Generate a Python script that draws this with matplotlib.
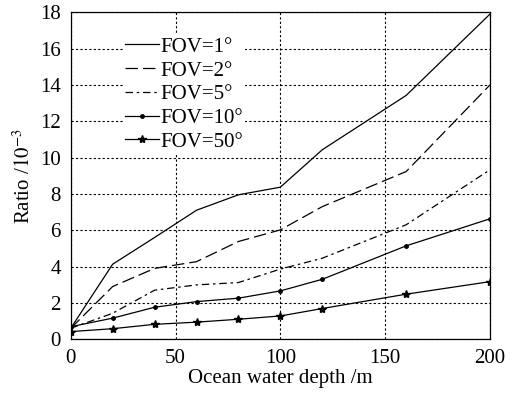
import matplotlib.pyplot as plt

depth = [0, 20, 40, 60, 80, 100, 120, 160, 200]
fov1 = [0.6, 4.13, 5.6, 7.1, 7.95, 8.37, 10.43, 13.42, 17.9]
fov2 = [0.6, 2.9, 3.9, 4.27, 5.38, 6.02, 7.3, 9.23, 14.0]
fov5 = [0.6, 1.43, 2.7, 2.99, 3.12, 3.86, 4.46, 6.3, 9.33]
fov10 = [0.69, 1.16, 1.76, 2.07, 2.26, 2.66, 3.3, 5.14, 6.63]
fov50 = [0.42, 0.58, 0.82, 0.94, 1.1, 1.28, 1.69, 2.48, 3.17]

labels = ['FOV=1°', 'FOV=2°', 'FOV=5°', 'FOV=10°', 'FOV=50°']
xticks = [0, 50, 100, 150, 200]
yticks = [0, 2, 4, 6, 8, 10, 12, 14, 16, 18]

plt.rcParams['font.family'] = ['Liberation Serif', 'DejaVu Serif']
plt.rcParams['mathtext.fontset'] = 'stix'

fig = plt.figure(figsize=(5.18, 3.94), dpi=100)
ax = fig.add_axes([0.1365, 0.139, 0.8095, 0.830])

lw = 0.9
ax.plot(depth, fov1, color='black', lw=lw, label=labels[0])
ax.plot(depth, fov2, color='black', lw=lw, ls=(0, (10, 4)), label=labels[1])
ax.plot(depth, fov5, color='black', lw=lw, ls=(0, (6, 3, 2, 3)), label=labels[2])
ax.plot(depth, fov10, color='black', lw=lw, marker='.', ms=5, label=labels[3])
ax.plot(depth, fov50, color='black', lw=lw, marker='*', ms=6, label=labels[4])

ax.set_xlim(0, 200)
ax.set_ylim(0, 18)
ax.set_xticks(xticks)
ax.set_yticks(yticks)
ax.tick_params(direction='in', length=0, labelsize=15)
ax.tick_params(axis='y', pad=7)
ax.tick_params(axis='x', pad=7)
ax.grid(True, color='black', ls=(0, (2, 2)), lw=0.8)
for s in ax.spines.values():
    s.set_linewidth(0.9)

ax.set_xlabel('Ocean water depth /m', fontsize=15, labelpad=1)
ax.set_ylabel('Ratio /$10^{-3}$', fontsize=15, labelpad=4)

leg = ax.legend(loc='upper left', bbox_to_anchor=(0.125, 0.93), frameon=True,
                fontsize=15, handlelength=1.6, handletextpad=0.1,
                labelspacing=0.2, borderpad=0.1, borderaxespad=0)
leg.get_frame().set_edgecolor('none')
leg.get_frame().set_facecolor('white')
leg.get_frame().set_alpha(1)

fig.savefig('out.png', dpi=100)
